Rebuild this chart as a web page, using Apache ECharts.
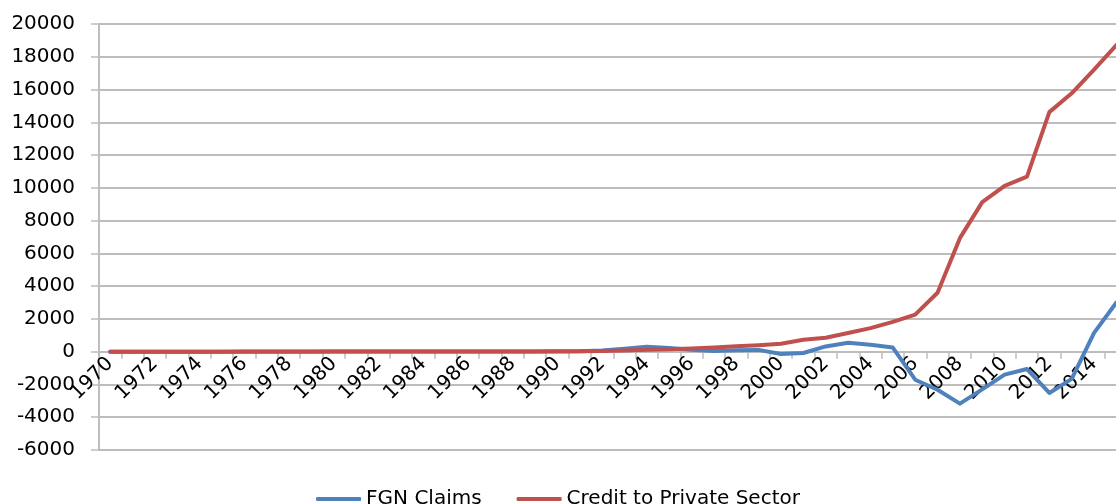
<!DOCTYPE html>
<html>
<head>
<meta charset="utf-8">
<script src="https://cdn.jsdelivr.net/npm/echarts@6/dist/echarts.min.js"></script>
<style>
  html, body { margin: 0; padding: 0; background: #ffffff; }
  #chart { width: 1116px; height: 504px; }
</style>
</head>
<body>
<div id="chart"></div>
<script>
const years = ['1970','1971','1972','1973','1974','1975','1976','1977','1978','1979',
  '1980','1981','1982','1983','1984','1985','1986','1987','1988','1989',
  '1990','1991','1992','1993','1994','1995','1996','1997','1998','1999',
  '2000','2001','2002','2003','2004','2005','2006','2007','2008','2009',
  '2010','2011','2012','2013','2014','2015'];

const fgnClaims = [1, 1, 1, 2, 2, 2, 3, 3, 4, 4,
  5, 5, 6, 6, 7, 8, 9, 10, 12, 14,
  16, 20, 80, 180, 300, 220, 120, 40, 90, 110,
  -140, -80, 320, 540, 430, 250, -1710, -2320, -3170, -2300,
  -1400, -1060, -2520, -1660, 1150, 3000];

const creditPrivate = [2, 2, 3, 3, 4, 4, 5, 5, 6, 7,
  8, 9, 10, 11, 12, 13, 14, 15, 16, 18,
  20, 25, 40, 80, 120, 150, 190, 260, 330, 400,
  490, 730, 850, 1140, 1440, 1820, 2260, 3600, 6930, 9130,
  10120, 10690, 14620, 15770, 17210, 18720];

const seriesNames = ['FGN Claims', 'Credit to Private Sector'];
const seriesColors = ['#4f81bd', '#c0504d'];

const yMin = -6000, yMax = 20000;
const gridTop = 24, gridHeight = 426;
// distance from grid bottom to the zero line, so the category axis sits on 0
const zeroOffset = gridHeight * (0 - yMin) / (yMax - yMin);

const chart = echarts.init(document.getElementById('chart'), null, { renderer: 'canvas' });
const gridColor = '#bdbdbd';
const font = 'DejaVu Sans';

chart.setOption({
  animation: false,
  backgroundColor: '#ffffff',
  grid: { left: 99, top: gridTop, width: 1028.6, height: gridHeight, containLabel: false, outerBoundsMode: 'none' },
  legend: {
    data: seriesNames,
    left: 'center',
    top: 484,
    itemWidth: 45,
    itemHeight: 4,
    itemGap: 35,
    icon: 'roundRect',
    textStyle: { fontFamily: font, fontSize: 20, color: '#000000' }
  },
  xAxis: {
    type: 'category',
    data: years,
    boundaryGap: true,
    position: 'bottom',
    offset: -zeroOffset,
    axisLine: { onZero: false, lineStyle: { color: gridColor, width: 2 } },
    axisTick: { show: true, interval: 0, alignWithLabel: false, length: 7, lineStyle: { color: gridColor, width: 1.5 } },
    axisLabel: { interval: 1, rotate: 45, margin: 9, fontFamily: font, fontSize: 20, color: '#000000' },
    splitLine: { show: false }
  },
  yAxis: {
    type: 'value',
    min: yMin,
    max: yMax,
    interval: 2000,
    axisLine: { show: true, lineStyle: { color: gridColor, width: 2 } },
    axisTick: { show: true, length: 8, lineStyle: { color: gridColor, width: 1.5 } },
    axisLabel: { margin: 24, fontFamily: font, fontSize: 20, color: '#000000', formatter: function (v) { return String(v); } },
    splitLine: { show: true, lineStyle: { color: gridColor, width: 2 } }
  },
  series: [
    {
      name: seriesNames[0],
      type: 'line',
      data: fgnClaims,
      symbol: 'none',
      lineStyle: { color: seriesColors[0], width: 4, join: 'round', cap: 'round' },
      itemStyle: { color: seriesColors[0] },
      z: 2
    },
    {
      name: seriesNames[1],
      type: 'line',
      data: creditPrivate,
      symbol: 'none',
      lineStyle: { color: seriesColors[1], width: 4, join: 'round', cap: 'round' },
      itemStyle: { color: seriesColors[1] },
      z: 3
    }
  ]
});
</script>
</body>
</html>
